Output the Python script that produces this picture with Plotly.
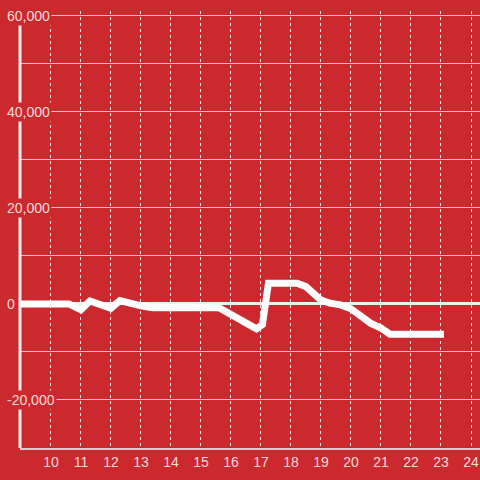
import plotly.graph_objects as go

# values
heures = [9, 10.6, 11.0, 11.3, 12.0, 12.3, 13.0, 13.4, 15.6, 16.85, 17.05, 17.25,
          18.2, 18.5, 18.75, 19.0, 19.3, 19.65, 20.0, 20.3, 20.65, 21.0, 21.3, 23.1]
valeurs = [0, 0, -1200, 600, -900, 700, -400, -800, -800, -5200, -4300, 4300,
           4300, 3600, 2200, 800, 150, -200, -1000, -2600, -4000, -5000, -6300, -6300]

xTicks = list(range(10, 25))
yGrid = list(range(-30000, 60001, 10000))
yLabels = [60000, 40000, 20000, 0, -20000]

fond = "#cc292e"
texte = "#f3dcdc"

fig = go.Figure()
fig.add_trace(go.Scatter(x=heures, y=valeurs, mode="lines",
                         line=dict(color="white", width=7), hoverinfo="skip"))

# axe vertical : commence un peu sous le haut de la zone de tracé
fig.add_shape(type="line", xref="paper", x0=0, x1=0, yref="y",
              y0=yGrid[0], y1=58300, line=dict(color="#f0f0f0", width=3))

for v in yLabels:
    fig.add_annotation(x=-0.033, xref="paper", y=v, yref="y", xanchor="left",
                       text="{:,}".format(v), showarrow=False, bgcolor=fond,
                       borderpad=1, font=dict(size=14, color=texte))

fig.update_layout(
    width=480, height=480,
    paper_bgcolor=fond, plot_bgcolor=fond,
    margin=dict(l=20, r=0, t=11, b=32),
    showlegend=False,
    font=dict(family="Liberation Sans, Arial, sans-serif", size=14, color=texte),
)
fig.update_xaxes(range=[8.97, 24.3], tickvals=xTicks, showgrid=True,
                 gridcolor="#e6e6e6", griddash="dot", gridwidth=1,
                 showline=True, linecolor="#d0d0d0", linewidth=2,
                 ticks="", zeroline=False, tickfont=dict(size=14, color=texte))
fig.update_yaxes(range=[-30000, 61000], tickvals=yGrid, showticklabels=False,
                 showgrid=True, gridcolor="#cfcfcf", gridwidth=1,
                 zeroline=True, zerolinecolor="#f0f0f0", zerolinewidth=3,
                 showline=False, ticks="")

fig.write_html("out.html", config={"displayModeBar": False},
               post_script="document.body.style.margin='0';")
